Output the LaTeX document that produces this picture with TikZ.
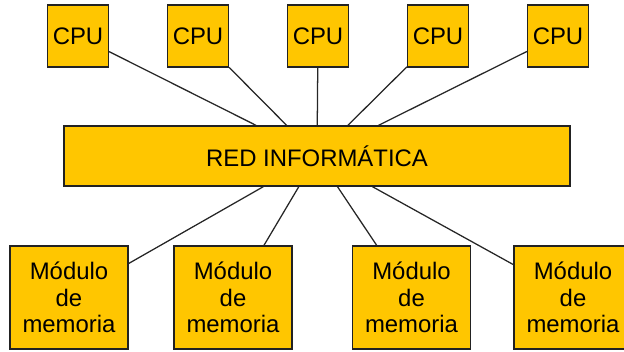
\documentclass[tikz,border=0pt]{standalone}
\usepackage{fontspec}
\setmainfont{Liberation Sans}
\usetikzlibrary{positioning}
\definecolor{boxyellow}{RGB}{255,198,0}
\definecolor{boxline}{RGB}{34,34,34}

\begin{document}
\begin{tikzpicture}[
    unit/.style={draw=boxline, fill=boxyellow, line width=0.9pt, inner sep=0pt,
                 font=\fontsize{17}{19}\selectfont, align=center},
    cpubox/.style={unit, minimum width=1.525cm, minimum height=1.55cm},
    membox/.style={unit, minimum width=2.95cm, minimum height=2.575cm},
    redbox/.style={unit, minimum width=12.65cm, minimum height=1.5cm},
    link/.style={draw=black!85, line width=0.9pt}
    ]
\useasboundingbox (0,0) rectangle (15.6,8.775);
\edef\yc{7.875}
\edef\ym{1.3375}

\node[redbox] (red) at (7.925,4.875) {RED INFORMÁTICA};

\node[cpubox] (cpu1) at (1.95,\yc) {CPU};
\node[cpubox] (cpu2) at (4.95,\yc) {CPU};
\node[cpubox] (cpu3) at (7.95,\yc) {CPU};
\node[cpubox] (cpu4) at (10.95,\yc) {CPU};
\node[cpubox] (cpu5) at (13.95,\yc) {CPU};

\node[membox] (mem1) at (1.725,\ym) {Módulo\\de\\memoria};
\node[membox] (mem2) at (5.825,\ym) {Módulo\\de\\memoria};
\node[membox] (mem3) at (10.2875,\ym) {Módulo\\de\\memoria};
\node[membox] (mem4) at (14.325,\ym) {Módulo\\de\\memoria};

\draw[link] (cpu1) -- (red);
\draw[link] (cpu2) -- (red);
\draw[link] (cpu3) -- (red);
\draw[link] (cpu4) -- (red);
\draw[link] (cpu5) -- (red);

\draw[link] (red) -- (mem1);
\draw[link] (red) -- (mem2);
\draw[link] (red) -- (mem3);
\draw[link] (red) -- (mem4);
\end{tikzpicture}
\end{document}
